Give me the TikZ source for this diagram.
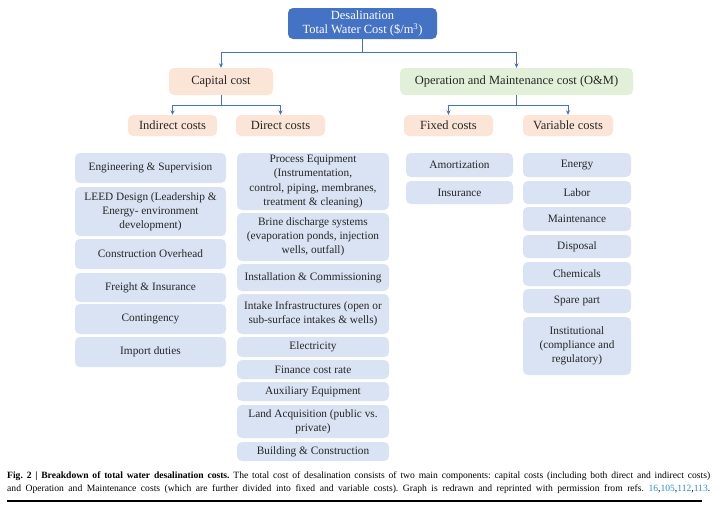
\documentclass[tikz,border=0pt]{standalone}
\usepackage{fontspec}
\setmainfont{Liberation Serif}
\newfontfamily\captionfont{Liberation Serif}
\usetikzlibrary{arrows.meta}
\definecolor{topblue}{HTML}{4472C4}
\definecolor{peach}{HTML}{FBE5D6}
\definecolor{mint}{HTML}{E2F0D9}
\definecolor{itemblue}{HTML}{DAE3F3}
\definecolor{refblue}{HTML}{2B8FD0}
\definecolor{ink}{HTML}{262626}
\tikzset{
  box/.style={rounded corners=5pt, inner sep=1pt, align=center, text=ink,
    font=\fontsize{12.5}{14.5}\selectfont},
  head/.style={box, fill=peach, minimum height=21pt, minimum width=89pt},
  item/.style={box, fill=itemblue, font=\fontsize{11.3}{14.2}\selectfont},
  conn/.style={draw=topblue, line width=0.9pt, -{Stealth[length=4.5pt,width=4pt]}}
}
\begin{document}
\frenchspacing
\begin{tikzpicture}[x=1pt,y=-1pt]
  \useasboundingbox[fill=white] (0,0) rectangle (720,512);

  % horní úroveň
  \node[box, fill=topblue, text=white, minimum width=149pt, minimum height=31pt]
    (total) at (362.5,23.5) {Desalination\\Total Water Cost (\$/m\textsuperscript{3})};
  \node[box, fill=peach, minimum width=104pt, minimum height=27pt]
    (capital) at (221,81.5) {Capital cost};
  \node[box, fill=mint, minimum width=233pt, minimum height=27pt]
    (om) at (516.5,81.5) {Operation and Maintenance cost (O\&M)};

  \node[head] (indirect) at (172.5,125.5) {Indirect costs};
  \node[head] (direct) at (280.5,125.5) {Direct costs};
  \node[head] (fixed) at (448.5,125.5) {Fixed costs};
  \node[head, minimum width=90pt] (variable) at (568,125.5) {Variable costs};

  \draw[conn] (total.south) -- ++(0,13) -| (capital.north);
  \draw[conn] (total.south) -- ++(0,13) -| (om.north);
  \draw[conn] (capital.south) -- ++(0,10) -| (indirect.north);
  \draw[conn] (capital.south) -- ++(0,10) -| (direct.north);
  \draw[conn] (om.south) -- ++(0,10) -| (fixed.north);
  \draw[conn] (om.south) -- ++(0,10) -| (variable.north);

  % nepřímé náklady
  \begin{scope}[every node/.append style={item, minimum width=151pt}]
    \node[minimum height=30pt] (eng) at (150.5,168) {Engineering \& Supervision};
    \node[minimum height=49pt] (leed) at (150.5,211.5) {LEED Design (Leadership \&\\Energy- environment\\development)};
    \node[minimum height=30pt] (overhead) at (150.5,254) {Construction Overhead};
    \node[minimum height=29pt] (freight) at (150.5,287.5) {Freight \& Insurance};
    \node[minimum height=30pt] (contingency) at (150.5,319) {Contingency};
    \node[minimum height=30pt] (duties) at (150.5,352) {Import duties};
  \end{scope}

  % přímé náklady
  \begin{scope}[every node/.append style={item, minimum width=152pt}]
    \node[minimum height=57pt] (process) at (313,181.5) {Process Equipment\\(Instrumentation,\\control, piping, membranes,\\treatment \& cleaning)};
    \node[minimum height=48pt] (brine) at (313,237) {Brine discharge systems\\(evaporation ponds, injection\\wells, outfall)};
    \node[minimum height=27pt] (install) at (313,277.5) {Installation \& Commissioning};
    \node[minimum height=40pt] (intake) at (313,314) {Intake Infrastructures (open or\\sub-surface intakes \& wells)};
    \node[minimum height=20pt] (electricity) at (313,347) {Electricity};
    \node[minimum height=19pt] (finance) at (313,369.5) {Finance cost rate};
    \node[minimum height=19pt] (auxiliary) at (313,391.5) {Auxiliary Equipment};
    \node[minimum height=33pt] (land) at (313,421.5) {Land Acquisition (public vs.\\private)};
    \node[minimum height=19pt] (building) at (313,451.5) {Building \& Construction};
  \end{scope}

  % fixní a variabilní náklady
  \begin{scope}[every node/.append style={item, minimum width=107pt}]
    \node[minimum height=24pt] (amort) at (459.5,165) {Amortization};
    \node[minimum height=23pt] (insurance) at (459.5,192.5) {Insurance};
  \end{scope}
  \begin{scope}[every node/.append style={item, minimum width=108pt}]
    \node[minimum height=24pt] (energy) at (577,165) {Energy};
    \node[minimum height=23pt] (labor) at (577,192.5) {Labor};
    \node[minimum height=24pt] (maint) at (577,219) {Maintenance};
    \node[minimum height=23pt] (disposal) at (577,246.5) {Disposal};
    \node[minimum height=24pt] (chemicals) at (577,274) {Chemicals};
    \node[minimum height=24pt] (spare) at (577,301) {Spare part};
    \node[minimum height=58pt] (institutional) at (577,346) {Institutional\\(compliance and\\regulatory)};
  \end{scope}

  % popisek obrázku
  \node[anchor=north west, inner sep=0pt, align=left, text=black,
    font=\captionfont\fontsize{9.6}{12.6}\selectfont] (caption) at (7,472)
    {\makebox[703pt][s]{\textbf{Fig. 2 | Breakdown of total water desalination costs.} The total cost of desalination consists of two main components: capital costs (including both direct and indirect costs)}\\
     \makebox[703pt][s]{and Operation and Maintenance costs (which are further divided into fixed and variable costs). Graph is redrawn and reprinted with permission from refs. \textcolor{refblue}{16},\textcolor{refblue}{105},\textcolor{refblue}{112},\textcolor{refblue}{113}.}};
  \draw[line width=1.6pt] (caption.south west) ++(0,7) -- ++(695,0);
\end{tikzpicture}
\end{document}
